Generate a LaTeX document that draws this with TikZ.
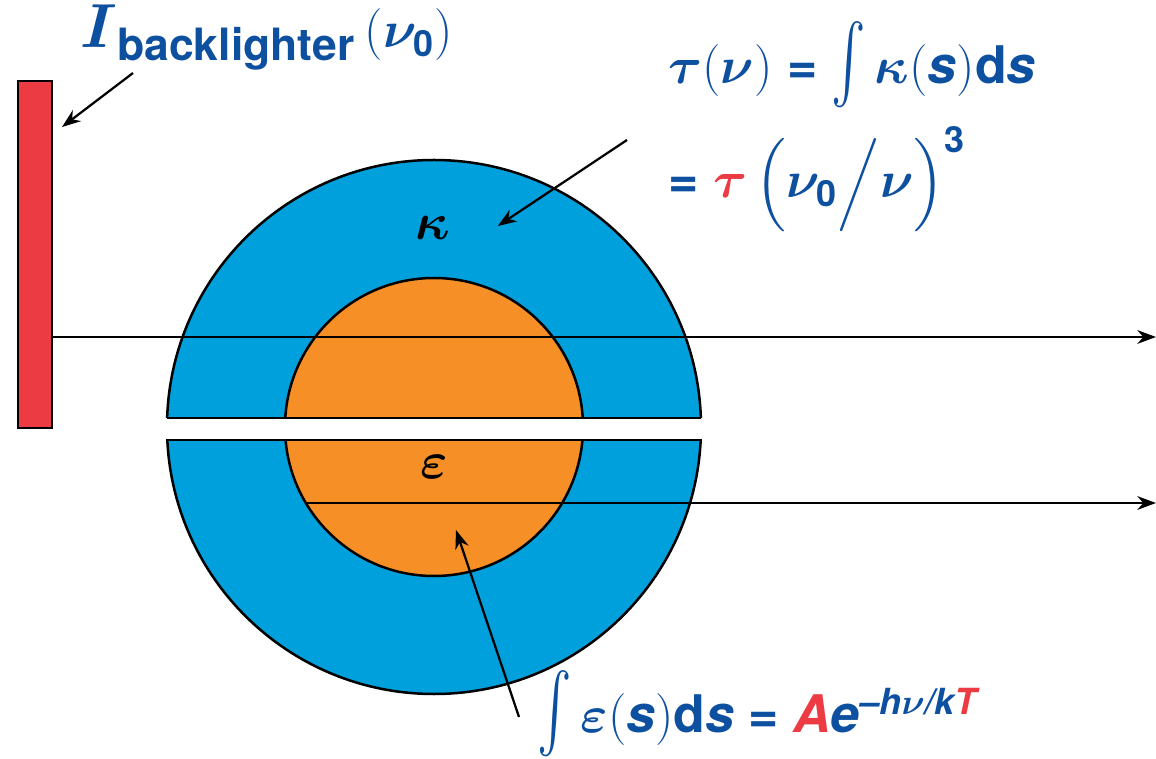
\documentclass[tikz,border=0pt]{standalone}
\usepackage{amsmath,bm,graphicx}
\usepackage{fontspec}
\setsansfont{TeX Gyre Heros}
\usetikzlibrary{arrows.meta,positioning,calc}
\definecolor{capblue}{RGB}{14,80,160}
\definecolor{shellblue}{RGB}{0,160,220}
\definecolor{coreorange}{RGB}{246,143,38}
\definecolor{hotred}{RGB}{236,59,66}
\newcommand{\hb}[1]{\textsf{\bfseries #1}}
\newcommand{\hbi}[1]{\textsf{\bfseries\itshape #1}}
\newcommand{\beq}{\mathrel{\hb{=}}}
\newcommand{\tallint}{\mathop{\scalebox{1}[1.5]{$\int$}}\nolimits}
\tikzset{
  >={Stealth[length=7.5pt,width=5.5pt]},
  edge/.style={line width=1pt},
  ray/.style={->, line width=0.9pt},
  formula/.style={text=capblue, font=\huge, inner sep=0pt},
  symb/.style={font=\huge, inner sep=0pt},
}

\begin{document}
\begin{tikzpicture}[x=0.4pt, y=-0.4pt,
  shell/.style={edge, fill=shellblue},
  core/.style={edge, fill=coreorange},
  backlighter/.style={draw, edge, fill=hotred, minimum width=13.6pt, minimum height=138.8pt, inner sep=0pt}
]
\useasboundingbox (0,0) rectangle (1156,759);

% source slab
\node[backlighter] (bl) at (35,254.5) {};
\node[formula, anchor=base west] (blabel) at (80,48)
  {\Huge$\bm{I}$\raisebox{-5pt}{\fontsize{17.8}{20}\selectfont\hb{backlighter}}\,\huge$(\bm{\nu}_{\text{\hb{0}}})$};

% plasma
\coordinate (ctr) at (434,427);
\begin{scope}
  \clip (0,0) rectangle (1156,418);
  \filldraw[shell] (ctr) circle[radius=106.8pt];
  \filldraw[core] (ctr) circle[radius=59.6pt];
\end{scope}
\draw[edge] ($(ctr)+(-266.85,-9)$) -- ($(ctr)+(266.85,-9)$);
\begin{scope}
  \clip (0,440) rectangle (1156,759);
  \filldraw[shell] (ctr) circle[radius=106.8pt];
  \filldraw[core] (ctr) circle[radius=59.6pt];
\end{scope}
\draw[edge] ($(ctr)+(-266.6,13)$) -- ($(ctr)+(266.6,13)$);

\node[symb] (kap) at (433,228) {$\bm{\kappa}$};
\node[symb] (eps) at (434,467) {$\bm{\varepsilon}$};

% rays
\coordinate (rayA) at (1156,337);
\coordinate (rayB) at (1156,503);
\coordinate (rayBsrc) at ($(ctr)+(-128,76)$);
\draw[ray] (bl.east |- rayA) -- (rayA);
\draw[ray] (rayBsrc) -- (rayB);

% formulas
\node[formula, anchor=base west] (tauf) at (668,84)
  {$\bm{\tau}(\bm{\nu}) \beq \tallint \bm{\kappa}(\hbi{s})\hb{d}\hbi{s}$};
\node[formula, anchor=base west] (taur) at (668,198)
  {$\beq\textcolor{hotred}{\bm{\tau}}\,\Bigl(\bm{\nu}_{\text{\hb{0}}}\Big/\bm{\nu}\Bigr)^{\text{\hb{3}}}$};
\node[formula, anchor=base west] (epsf) at (537,733)
  {$\tallint \bm{\varepsilon}(\hbi{s})\hb{d}\hbi{s} \beq \textcolor{hotred}{\hbi{A}}\hbi{e}^{\hbi{--h}\bm{\nu}\hbi{/k}\textcolor{hotred}{\hbi{T}}}$};

% pointers
\coordinate (blTail) at (133,73);
\coordinate (blTip) at (62,127);
\coordinate (kapTail) at (627,140);
\coordinate (kapTip) at ($(kap.east)+(47,-2)$);
\coordinate (epsTail) at (519,717);
\coordinate (epsTip) at (456,530);
\draw[ray] (blTail) -- (blTip);
\draw[ray] (kapTail) -- (kapTip);
\draw[ray] (epsTail) -- (epsTip);
\end{tikzpicture}
\end{document}
